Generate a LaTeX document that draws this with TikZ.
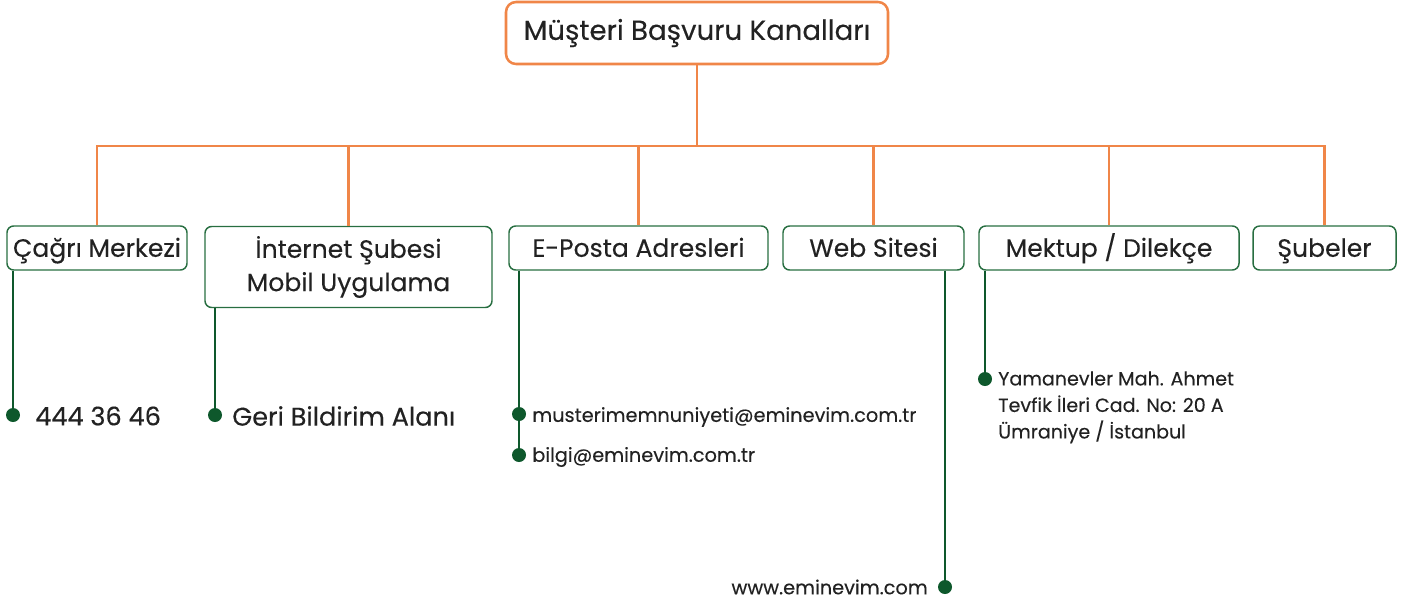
\documentclass[tikz,border=0pt]{standalone}
\usepackage{fontspec}
\setmainfont{Poppins}[FakeBold=0.25]
\definecolor{borange}{RGB}{240,134,72}
\definecolor{bgreen}{RGB}{40,110,65}
\definecolor{lgreen}{RGB}{14,88,44}
\definecolor{txt}{RGB}{34,34,34}
\begin{document}
\begin{tikzpicture}[x=0.75pt,y=-0.75pt,
  titlebox/.style={draw=borange,line width=1.9pt,rounded corners=7.5pt,text=txt,inner sep=0pt,font=\fontsize{20.7}{24}\selectfont},
  catbox/.style={draw=bgreen,line width=1.1pt,rounded corners=5pt,text=txt,inner sep=0pt,align=center,font=\fontsize{18.8}{25}\selectfont},
  catone/.style={catbox,text height=17.2pt,text depth=4pt},
  bus/.style={draw=borange,line width=1.9pt},
  stem/.style={draw=lgreen,line width=2.2pt},
  dotnode/.style={circle,fill=lgreen,inner sep=0pt,minimum size=10.5pt},
  leafbig/.style={text=txt,inner sep=0pt,font=\fontsize{19.2}{22}\selectfont},
  leafsmall/.style={text=txt,inner sep=0pt,font=\fontsize{14.5}{20}\selectfont},
  leafaddr/.style={text=txt,inner sep=0pt,align=left,font=\fontsize{14.3}{19.9}\selectfont}
]
\useasboundingbox (0,0) rectangle (1416,601);
% title
\node[titlebox,minimum width=382*0.75pt,minimum height=62*0.75pt] (title) at (697,33) {Müşteri Başvuru Kanalları};
% category boxes
\node[catone,minimum width=180*0.75pt,minimum height=44*0.75pt] (b1) at (97,248) {Çağrı Merkezi};
\node[catbox,minimum width=287*0.75pt,minimum height=81*0.75pt] (b2) at (348.5,267) {İnternet Şubesi\\Mobil Uygulama};
\node[catone,minimum width=259*0.75pt,minimum height=44*0.75pt] (b3) at (638.5,248) {E-Posta Adresleri};
\node[catone,minimum width=181*0.75pt,minimum height=44*0.75pt] (b4) at (873.5,248) {Web Sitesi};
\node[catone,minimum width=260*0.75pt,minimum height=44*0.75pt] (b5) at (1109,248) {Mektup / Dilekçe};
\node[catone,minimum width=143*0.75pt,minimum height=44*0.75pt] (b6) at (1324.5,248) {Şubeler};
% bus
\coordinate (busy) at (692,146);
\draw[bus] (title.south) -- (title.south |- busy);
\draw[bus] (b1.north) -- (b1.north |- busy) -- (b6.north |- busy) -- (b6.north);
\foreach \b in {b2,b3,b4,b5} \draw[bus] (\b.north) -- (\b.north |- busy);
% dots
\node[dotnode] (d1) at (13,415) {};
\node[dotnode] (d2) at (215,415) {};
\node[dotnode] (d3a) at (519,414) {};
\node[dotnode] (d3b) at (519,455) {};
\node[dotnode] (d4) at (945,587) {};
\node[dotnode] (d5) at (985,379) {};
% stems
\draw[stem] (d1 |- b1.south) -- (d1.center);
\draw[stem] (d2 |- b2.south) -- (d2.center);
\draw[stem] (d3b |- b3.south) -- (d3a.center) -- (d3b.center);
\draw[stem] (d4 |- b4.south) -- (d4.center);
\draw[stem] (d5 |- b5.south) -- (d5.center);
% leaves
\node[leafbig,anchor=west] (t1) at (35,416) {444 36 46};
\node[leafbig,anchor=west] (t2) at (232,416) {Geri Bildirim Alanı};
\node[leafsmall,anchor=west] (t3a) at (532,417) {musterimemnuniyeti@eminevim.com.tr};
\node[leafsmall,anchor=west] (t3b) at (532,457) {bilgi@eminevim.com.tr};
\node[leafsmall,anchor=east] (t4) at (928,587) {www.eminevim.com};
\node[leafaddr,anchor=north west] (t5) at (998,371) {Yamanevler Mah. Ahmet\\Tevfik İleri Cad. No: 20 A\\Ümraniye / İstanbul};
\end{tikzpicture}
\end{document}
